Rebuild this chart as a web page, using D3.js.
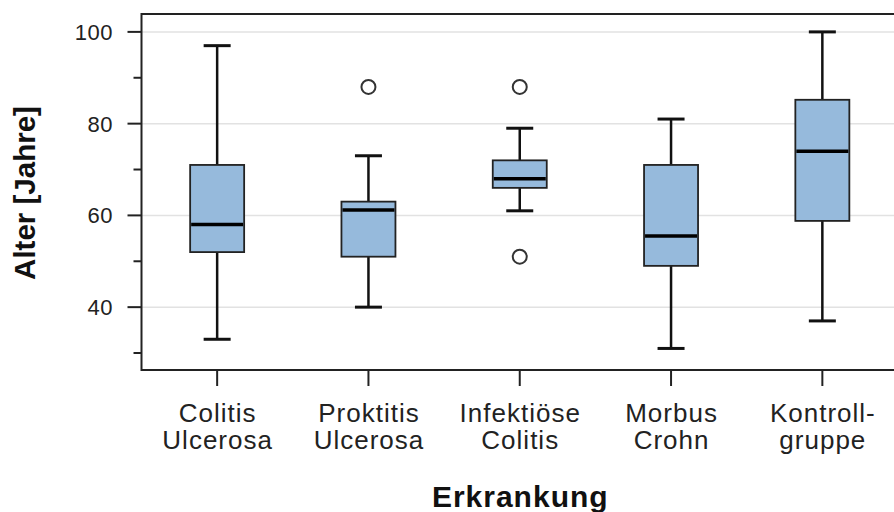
<!DOCTYPE html>
<html><head><meta charset="utf-8">
<script src="https://cdn.jsdelivr.net/npm/d3@7"></script>
<style>body{margin:0;background:#fff}svg{display:block}</style>
</head><body>
<svg id="c" width="894" height="512"></svg>
<script>
const categories = [["Colitis","Ulcerosa"],["Proktitis","Ulcerosa"],["Infektiöse","Colitis"],["Morbus","Crohn"],["Kontroll-","gruppe"]];
const whiskerLow = [33, 40, 61, 31, 37];
const q1 = [52, 51, 66, 49, 58.8];
const median = [58, 61.2, 68, 55.5, 74];
const q3 = [71, 63, 72, 71, 85.2];
const whiskerHigh = [97, 73, 79, 81, 100];
const outliers = [[], [88], [88, 51], [], []];
const majorTicks = [40, 60, 80, 100];
const minorTicks = [30, 50, 70, 90];
const xTitle = "Erkrankung";
const yTitle = "Alter [Jahre]";

const svg = d3.select("#c");
const L = 141.5, R = 898, T = 14, B = 370;
const y = d3.scaleLinear().domain([26.3, 103.9]).range([B, T]);
const keys = categories.map(c => c.join(" "));
const x = d3.scalePoint().domain(keys).range([L, R]).padding(0.5);
const font = "'Liberation Sans', Arial, Helvetica, sans-serif";

// gridlines
svg.append("g").selectAll("line").data(majorTicks).join("line")
  .attr("x1", L).attr("x2", R).attr("y1", d => y(d)).attr("y2", d => y(d))
  .attr("stroke", "#e2e2e2").attr("stroke-width", 1.5);

// frame
svg.append("rect").attr("x", L).attr("y", T).attr("width", R - L).attr("height", B - T)
  .attr("fill", "none").attr("stroke", "#222").attr("stroke-width", 2);

// y axis ticks
svg.append("g").selectAll("line").data(majorTicks).join("line")
  .attr("x1", L - 14).attr("x2", L).attr("y1", d => y(d)).attr("y2", d => y(d))
  .attr("stroke", "#222").attr("stroke-width", 2);
svg.append("g").selectAll("line").data(minorTicks).join("line")
  .attr("x1", L - 8).attr("x2", L).attr("y1", d => y(d)).attr("y2", d => y(d))
  .attr("stroke", "#222").attr("stroke-width", 2);
svg.append("g").selectAll("text").data(majorTicks).join("text")
  .attr("x", 113).attr("y", d => y(d)).attr("dy", "0.36em")
  .attr("text-anchor", "end").attr("font-family", font).attr("font-size", 22)
  .attr("letter-spacing", 0.5).attr("fill", "#222")
  .text(d => d);

// x ticks and labels
svg.append("g").selectAll("line").data(keys).join("line")
  .attr("x1", d => x(d)).attr("x2", d => x(d)).attr("y1", B).attr("y2", B + 16)
  .attr("stroke", "#222").attr("stroke-width", 2);
const lab = svg.append("g").selectAll("text").data(categories).join("text")
  .attr("text-anchor", "middle").attr("font-family", font).attr("font-size", 26)
  .attr("letter-spacing", 1).attr("fill", "#222");
lab.each(function(c, i) {
  const t = d3.select(this);
  c.forEach((line, j) => {
    t.append("tspan").attr("x", x(keys[i]) + 0.5).attr("y", 421.5 + j * 27.5).text(line);
  });
});

// titles
svg.append("text").attr("x", (L + R) / 2 + 0.5).attr("y", 506.5).attr("text-anchor", "middle")
  .attr("font-family", font).attr("font-size", 30).attr("font-weight", "bold")
  .attr("letter-spacing", 1).attr("fill", "#111")
  .text(xTitle);
svg.append("text").attr("transform", `translate(35,${(T + B) / 2 + 1}) rotate(-90)`)
  .attr("text-anchor", "middle")
  .attr("font-family", font).attr("font-size", 29.5).attr("font-weight", "bold").attr("fill", "#111")
  .text(yTitle);

// boxes
const bw = 54, cw = 27;
const g = svg.append("g").selectAll("g").data(keys).join("g");
g.append("line").attr("x1", d => x(d)).attr("x2", d => x(d))
  .attr("y1", (d, i) => y(whiskerHigh[i])).attr("y2", (d, i) => y(q3[i]))
  .attr("stroke", "#111").attr("stroke-width", 2.5);
g.append("line").attr("x1", d => x(d)).attr("x2", d => x(d))
  .attr("y1", (d, i) => y(q1[i])).attr("y2", (d, i) => y(whiskerLow[i]))
  .attr("stroke", "#111").attr("stroke-width", 2.5);
g.append("line").attr("x1", d => x(d) - cw / 2).attr("x2", d => x(d) + cw / 2)
  .attr("y1", (d, i) => y(whiskerHigh[i])).attr("y2", (d, i) => y(whiskerHigh[i]))
  .attr("stroke", "#111").attr("stroke-width", 3);
g.append("line").attr("x1", d => x(d) - cw / 2).attr("x2", d => x(d) + cw / 2)
  .attr("y1", (d, i) => y(whiskerLow[i])).attr("y2", (d, i) => y(whiskerLow[i]))
  .attr("stroke", "#111").attr("stroke-width", 3);
g.append("rect").attr("x", d => x(d) - bw / 2).attr("width", bw)
  .attr("y", (d, i) => y(q3[i])).attr("height", (d, i) => y(q1[i]) - y(q3[i]))
  .attr("fill", "#96badc").attr("stroke", "#222").attr("stroke-width", 1.8);
g.append("line").attr("x1", d => x(d) - bw / 2 + 1).attr("x2", d => x(d) + bw / 2 - 1)
  .attr("y1", (d, i) => y(median[i])).attr("y2", (d, i) => y(median[i]))
  .attr("stroke", "#000").attr("stroke-width", 3.5);
g.each(function(d, i) {
  d3.select(this).selectAll("circle").data(outliers[i]).join("circle")
    .attr("cx", x(d)).attr("cy", v => y(v)).attr("r", 7)
    .attr("fill", "#fff").attr("stroke", "#333").attr("stroke-width", 2);
});
</script>
</body></html>
